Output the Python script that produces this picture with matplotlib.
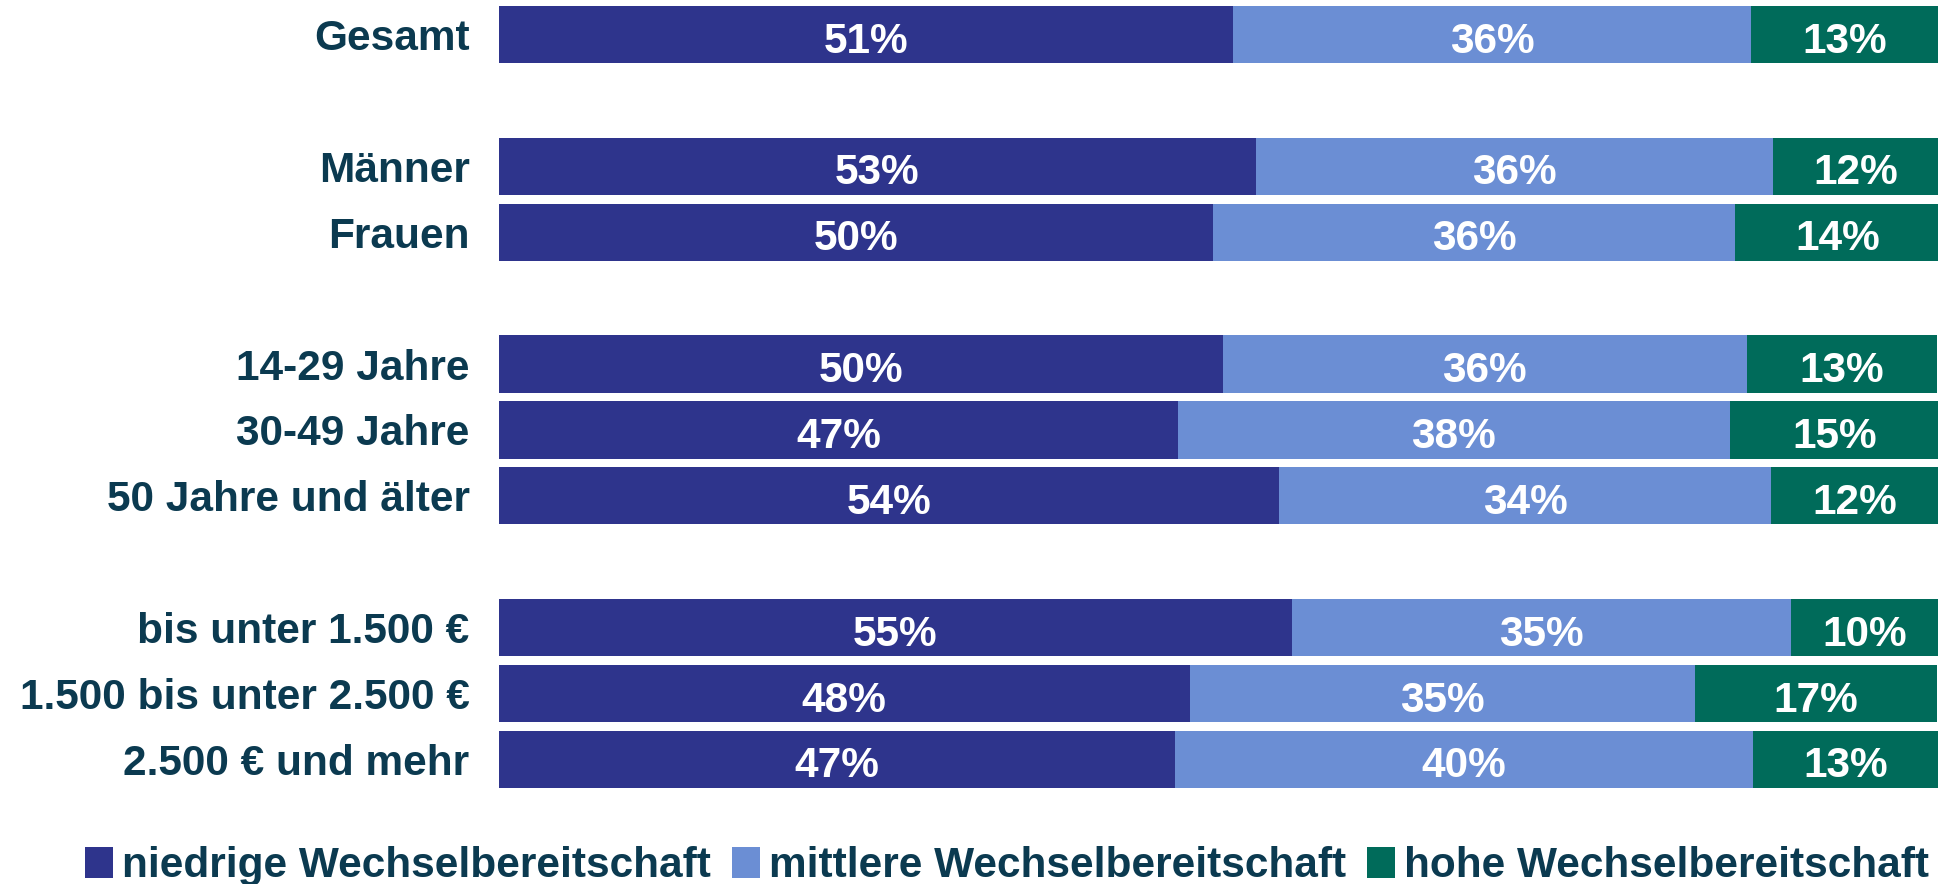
import matplotlib
matplotlib.use("Agg")
import matplotlib.pyplot as plt
from matplotlib.patches import Patch

categories = ["Gesamt", "Männer", "Frauen", "14-29 Jahre", "30-49 Jahre",
              "50 Jahre und älter", "bis unter 1.500 €", "1.500 bis unter 2.500 €",
              "2.500 € und mehr"]
slots = [0, 2, 3, 5, 6, 7, 9, 10, 11]
niedrig = [51.0, 52.6, 49.6, 50.3, 47.2, 54.2, 55.1, 48.0, 47.0]
mittel = [36.0, 35.9, 36.3, 36.4, 38.3, 34.2, 34.7, 35.1, 40.1]
hoch = [13.0, 11.6, 14.2, 13.2, 14.6, 11.6, 10.2, 16.8, 13.0]
series_names = ["niedrige Wechselbereitschaft", "mittlere Wechselbereitschaft",
                "hohe Wechselbereitschaft"]
colors = ["#2E348C", "#6B8ED4", "#006B5A"]
text_color = "#0B3A50"

FONT = ["Liberation Sans", "DejaVu Sans"]
FS = 30.5

fig = plt.figure(figsize=(19.48, 8.84), dpi=100)
ax = fig.add_axes([0.256, 0.1086, 0.739, 0.8846])

h = 0.87
left = [0.0] * len(categories)
for vals, col in zip([niedrig, mittel, hoch], colors):
    bars = ax.barh(slots, vals, left=left, height=h, color=col, edgecolor="none")
    for b, v in zip(bars, vals):
        ax.annotate(f"{v:.0f}%",
                    (b.get_x() + b.get_width() / 2, b.get_y() + b.get_height() / 2),
                    xytext=(0, -13), textcoords="offset points",
                    ha="center", va="baseline", color="white",
                    fontsize=FS, fontweight="bold", family=FONT)
    left = [l + v for l, v in zip(left, vals)]

ax.set_xlim(0, 100)
ax.set_ylim(11 + h / 2, -h / 2)
ax.set_yticks(slots)
ax.set_yticklabels(categories, fontsize=FS, fontweight="bold", family=FONT,
                   color=text_color)
ax.tick_params(axis="y", length=0, pad=21)
ax.set_xticks([])
for s in ax.spines.values():
    s.set_visible(False)

handles = [Patch(facecolor=c, edgecolor="none") for c in colors]
leg = fig.legend(handles, series_names, loc="center", bbox_to_anchor=(0.517, 0.02),
                 ncol=3, frameon=False, handlelength=0.65, handleheight=0.75,
                 handletextpad=0.22, columnspacing=0.5, borderpad=0,
                 prop={"family": FONT, "weight": "bold", "size": FS})
for t in leg.get_texts():
    t.set_color(text_color)

fig.savefig("out.png", dpi=100)
